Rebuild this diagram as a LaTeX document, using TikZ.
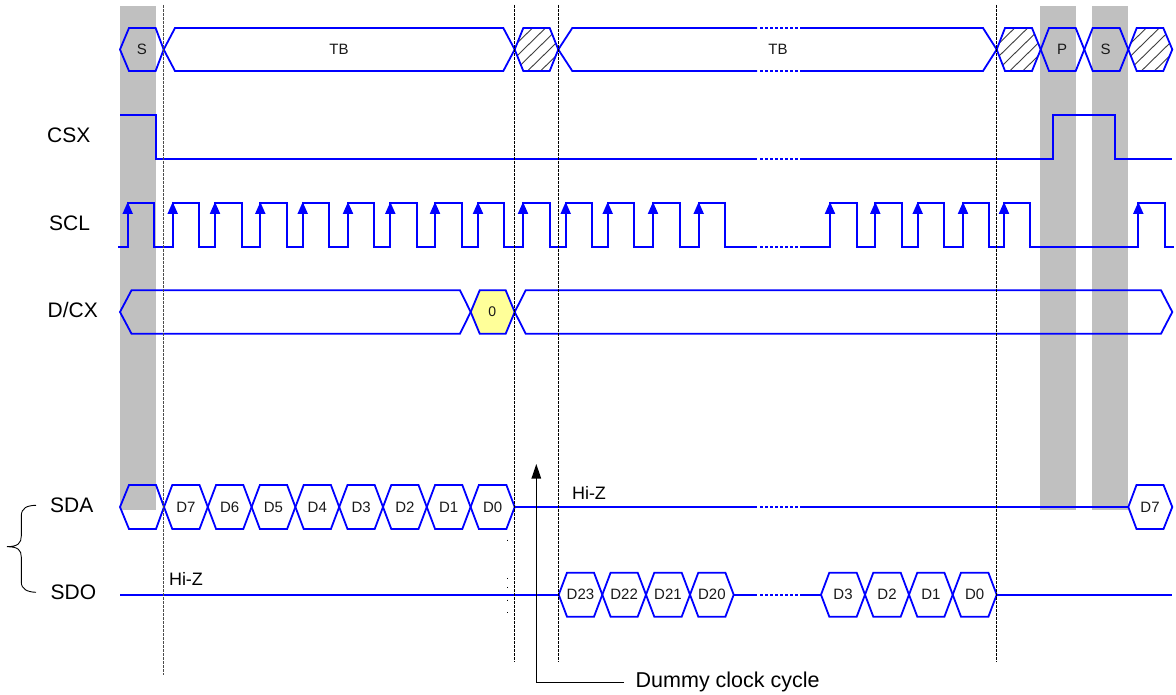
\documentclass[tikz,border=0pt]{standalone}
\usepackage{fontspec}
\setmainfont{Liberation Sans}
\newcommand{\hexpath}[6]{(#1,{(#5+#6)/2}) -- (#2,#5) -- (#3,#5) -- (#4,{(#5+#6)/2}) -- (#3,#6) -- (#2,#6) -- cycle}
\newcommand{\hatchhex}[6]{%
  \begin{scope}
    \clip \hexpath{#1}{#2}{#3}{#4}{#5}{#6};
    \foreach \k in {-52,-39,...,52}
      \draw[hatchline] ({(#1+#4)/2+\k-22},#6) -- ({(#1+#4)/2+\k+22},#5);
  \end{scope}
  \draw[sig] \hexpath{#1}{#2}{#3}{#4}{#5}{#6};}
\tikzset{
  sig/.style={draw=sigblue,line width=1.8pt,line join=miter,miter limit=4},
  gap/.style={draw=sigblue,line width=1.8pt,dash pattern=on 3pt off 2pt},
  hatchline/.style={draw=black!75,line width=0.9pt},
  guide/.style={draw=black,line width=0.9pt,dash pattern=on 2.6pt off 1.4pt},
  greyband/.style={fill=bandgrey,draw=none},
  lab/.style={font=\fontsize{15}{15}\selectfont,inner sep=0pt,text=black!90},
  sidelab/.style={font=\fontsize{21}{21}\selectfont,inner sep=0pt,text=black,anchor=west},
  notelab/.style={font=\fontsize{18}{18}\selectfont,inner sep=0pt,text=black},
  speck/.style={draw=black,line width=0.8pt}
}
\definecolor{sigblue}{RGB}{0,0,255}
\definecolor{bandgrey}{RGB}{192,192,192}
\definecolor{paleyellow}{RGB}{255,255,153}
\begin{document}
\begin{tikzpicture}[x=1pt,y=-1pt]
\useasboundingbox (0,0) rectangle (1176,695);
\fill[white] (0,0) rectangle (1176,695);
% grey bands
\fill[greyband] (120,6) rectangle (155.7,509.7);
\fill[greyband] (1040,6) rectangle (1076,509.7);
\fill[greyband] (1092,6) rectangle (1128,509.7);
% top bus
\draw[sig] \hexpath{120}{129}{155.6}{163.7}{28}{71};
\node[lab] (tS) at (142,49) {S};
\draw[sig] (514.7,49.5) -- (503.3,28) -- (175,28) -- (163.7,49.5) -- (175,71) -- (503.3,71) -- cycle;
\node[lab] (tTBa) at (339,49) {TB};
\hatchhex{514.7}{523.3}{549.7}{558.3}{28}{71}
\draw[sig] (558.3,49.5) -- (572.3,28) -- (757,28);
\draw[sig] (558.3,49.5) -- (572.3,71) -- (757,71);
\draw[gap] (760,28) -- (798,28);
\draw[gap] (760,71) -- (798,71);
\draw[sig] (800,28) -- (983,28) -- (996.7,49.5) -- (983,71) -- (800,71);
\node[lab] (tTBb) at (778,49) {TB};
\hatchhex{996.7}{1005}{1032}{1040.7}{28}{71}
\draw[sig] \hexpath{1040.7}{1049}{1075.7}{1084.3}{28}{71};
\node[lab] (tP) at (1062,49) {P};
\draw[sig] \hexpath{1084.3}{1092.7}{1119.7}{1128.3}{28}{71};
\node[lab] (tSb) at (1105.5,49) {S};
\hatchhex{1128.3}{1136.7}{1163.3}{1172.3}{28}{71}
% CSX
\draw[sig] (120,115) -- (155.6,115) -- (155.6,159) -- (757,159);
\draw[gap] (760,159) -- (798,159);
\draw[sig] (800,159) -- (1053.3,159) -- (1053.3,115) -- (1115,115) -- (1115,159) -- (1172,159);
% SCL
\draw[sig] (118,246.7) foreach \r/\f in {127.7/153.7,172.7/199.3,215/241.7,260.3/286.7,302.7/329.3,348/374.3,390.3/417,435/462,478/504,523/549.7,565.7/592.3,607.7/634.3,653/679.7,698.7/725}
  { -- (\r,246.7) -- (\r,202.7) -- (\f,202.7) -- (\f,246.7) } -- (757,246.7);
\draw[gap] (760,246.7) -- (798,246.7);
\draw[sig] (800,246.7) foreach \r/\f in {830/856.7,875.3/901.7,917.7/944,963/989.3,1004/1030.3,1138.3/1164.7}
  { -- (\r,246.7) -- (\r,202.7) -- (\f,202.7) -- (\f,246.7) } -- (1174,246.7);
\foreach \r in {127.7,172.7,215,260.3,302.7,348,390.3,435,478,523,565.7,607.7,653,698.7,830,875.3,917.7,963,1004,1138.3}
  \fill[sigblue] (\r,202) -- (\r-5.3,214) -- (\r+5.3,214) -- cycle;
% D/CX
\draw[sig] (470.7,312) -- (460,290.3) -- (131.5,290.3) -- (120,312) -- (131.5,333.7) -- (460,333.7) -- cycle;
\draw[sig,fill=paleyellow] \hexpath{470.7}{479.7}{505.7}{514.7}{290.3}{333.7};
\node[lab,font=\fontsize{14}{14}\selectfont] (dz) at (492.3,312) {0};
\draw[sig] \hexpath{514.7}{525.7}{1161}{1172.3}{290.3}{333.7};
% SDA
\draw[sig] \hexpath{120}{129}{156}{164}{485}{529};
\foreach \a/\b/\t in {164/207.8/D7,207.8/251.6/D6,251.6/295.4/D5,295.4/339.2/D4,339.2/383/D3,383/426.8/D2,426.8/470.6/D1,470.6/514.7/D0}{
  \draw[sig] \hexpath{\a}{\a+8.3}{\b-8.3}{\b}{485}{529};
  \node[lab] (sda\t) at ({(\a+\b)/2},507) {\t};
}
\draw[sig] (514.7,507) -- (757,507);
\draw[gap] (760,507) -- (798,507);
\draw[sig] (800,507) -- (1128.3,507);
\draw[sig] \hexpath{1128.3}{1136.5}{1163.5}{1172.3}{485}{529};
\node[lab] (sdaDb) at (1150,507) {D7};
% SDO
\draw[sig] (120,594.7) -- (558.7,594.7);
\foreach \a/\b/\t in {558.7/602.3/D23,602.3/646/D22,646/690/D21,690/733.7/D20,821/865/D3,865/909/D2,909/952.7/D1,952.7/996.7/D0}{
  \draw[sig] \hexpath{\a}{\a+8.3}{\b-8.3}{\b}{572.7}{616.7};
  \node[lab] (sdo\t) at ({(\a+\b)/2},594) {\t};
}
\draw[sig] (733.7,594.7) -- (757,594.7);
\draw[gap] (760,594.7) -- (798,594.7);
\draw[sig] (800,594.7) -- (821,594.7);
\draw[sig] (996.7,594.7) -- (1172,594.7);
% guides
\draw[guide,draw=black!70,line width=1pt] (163.7,5) -- (163.7,675);
\draw[guide] (514.7,5) -- (514.7,662);
\draw[guide] (558.3,5) -- (558.3,662);
\draw[guide] (996.7,5) -- (996.7,662);
% specks
\foreach \y in {540,578.3,587.3,600,612.7}
  \draw[speck] (507,\y-0.5) -- (507,\y+0.5);
% side labels
\node[sidelab] (lcsx) at (47,135) {CSX};
\node[sidelab] (lscl) at (49,223) {SCL};
\node[sidelab] (ldcx) at (47.5,310) {D/CX};
\node[sidelab] (lsda) at (50,505) {SDA};
\node[sidelab] (lsdo) at (50.5,592) {SDO};
\node[notelab] (hza) at (186,578.5) {Hi-Z};
\node[notelab] (hzb) at (589,493) {Hi-Z};
% brace
\draw[line width=0.9pt,black] (36,505.3) .. controls (27,505.5) and (21.3,508) .. (21.3,516)
  -- (21.3,536) .. controls (21.3,543) and (18,546.7) .. (7,546.7)
  .. controls (18,546.7) and (21.3,550) .. (21.3,557)
  -- (21.3,582) .. controls (21.3,589) and (27,592) .. (36,592.3);
% dummy clock cycle
\node[notelab,font=\fontsize{21.5}{21.5}\selectfont,anchor=west] (dcc) at (635.5,682) {Dummy clock cycle};
\coordinate (dccend) at (624,682);
\draw[black,line width=1pt] (dccend) -- (536.3,682) -- (536.3,476);
\fill[black] (536.3,464) -- (531.4,478.5) -- (541.2,478.5) -- cycle;
\end{tikzpicture}
\end{document}
